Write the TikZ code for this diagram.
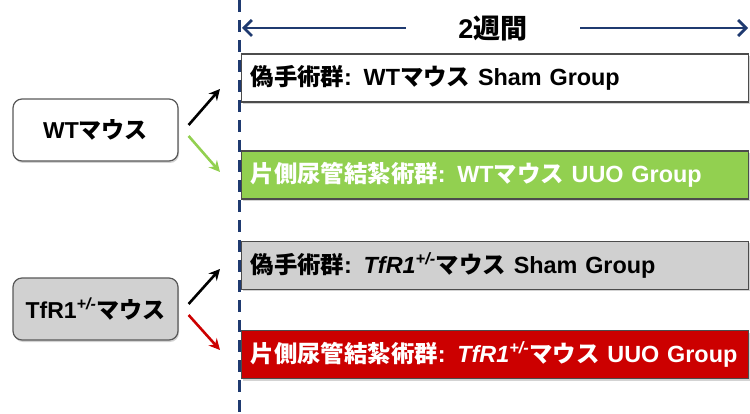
\documentclass[tikz,border=0pt]{standalone}
\usepackage{fontspec}
\setmainfont{Liberation Sans}
\newfontfamily\cjk{Noto Sans CJK JP}
\usetikzlibrary{arrows.meta,shadows,calc}
\newcommand\J[1]{{\cjk #1}}
\definecolor{navy}{HTML}{1F3A70}
\definecolor{uuogreen}{HTML}{92D050}
\definecolor{uuored}{HTML}{CC0000}
\definecolor{shamgray}{HTML}{D0D0D0}
\begin{document}
\begin{tikzpicture}[x=1pt,y=-1pt,
  grp/.style={draw=black!70, line width=1.2pt, minimum width=507pt, minimum height=48pt,
    anchor=west, inner xsep=9pt, text width=489pt, align=left,
    font=\fontsize{23.4}{28}\selectfont\bfseries,
    drop shadow={shadow xshift=1pt,shadow yshift=-2pt,opacity=0.35}},
  mouse/.style={draw=black!65, line width=1.2pt, rounded corners=9pt, minimum width=165pt,
    minimum height=62pt, font=\fontsize{23}{27}\selectfont\bfseries,
    drop shadow={shadow xshift=1pt,shadow yshift=-2pt,opacity=0.35}},
  arr/.style={line width=2.6pt, -{Stealth[length=11pt,width=11pt]}}]
\useasboundingbox (0,0) rectangle (750,414);

% groups
\node[grp, fill=white] (sham1) at (241,78) {\mbox{\J{偽手術群}: WT\J{マウス} Sham Group}};
\node[grp, fill=uuogreen, text=white] (uuo1) at (241,175) {\mbox{\J{片側尿管結紮術群}: WT\J{マウス} UUO Group}};
\node[grp, fill=shamgray] (sham2) at (241,265.5) {\mbox{\J{偽手術群}: \textit{TfR1\textsuperscript{+/-}}\J{マウス} Sham Group}};
\node[grp, fill=uuored, text=white] (uuo2) at (241,354.5) {\mbox{\J{片側尿管結紮術群}: \textit{TfR1\textsuperscript{+/-}}\J{マウス} UUO Group}};

% mice
\node[mouse, fill=white] (wt) at (95.5,130) {WT\J{マウス}};
\node[mouse, fill=black!18] (tfr) at (95.5,309) {TfR1\textsuperscript{\itshape +/-}\J{マウス}};

% arrows
\draw[arr, black] ($(wt.east)+(10,-5)$) -- ($(sham1.west)+(-21,11)$);
\draw[arr, uuogreen] ($(wt.east)+(10,6)$) -- ($(uuo1.west)+(-21,-3)$);
\draw[arr, black] ($(tfr.east)+(10,-5)$) -- ($(sham2.west)+(-21,3.5)$);
\draw[arr, uuored] ($(tfr.east)+(10,6)$) -- ($(uuo2.west)+(-21,-4.5)$);

% dashed line
\coordinate (dtop) at (239,0);
\coordinate (dbot) at (239,414);
\draw[navy, line width=3pt, dash pattern=on 12pt off 8pt] (dtop) -- (dbot);

% duration arrow
\coordinate (al) at (242,28);
\coordinate (ar) at (748,28);
\draw[navy, line width=2.8pt, {Straight Barb[length=8pt,width=16pt]}-{Straight Barb[length=8pt,width=16pt]}] (al) -- (ar);
\node[fill=white, inner xsep=52pt, inner ysep=2pt, font=\fontsize{27}{30}\selectfont\bfseries] (dur) at (493,29) {2\J{週間}};
\end{tikzpicture}
\end{document}
